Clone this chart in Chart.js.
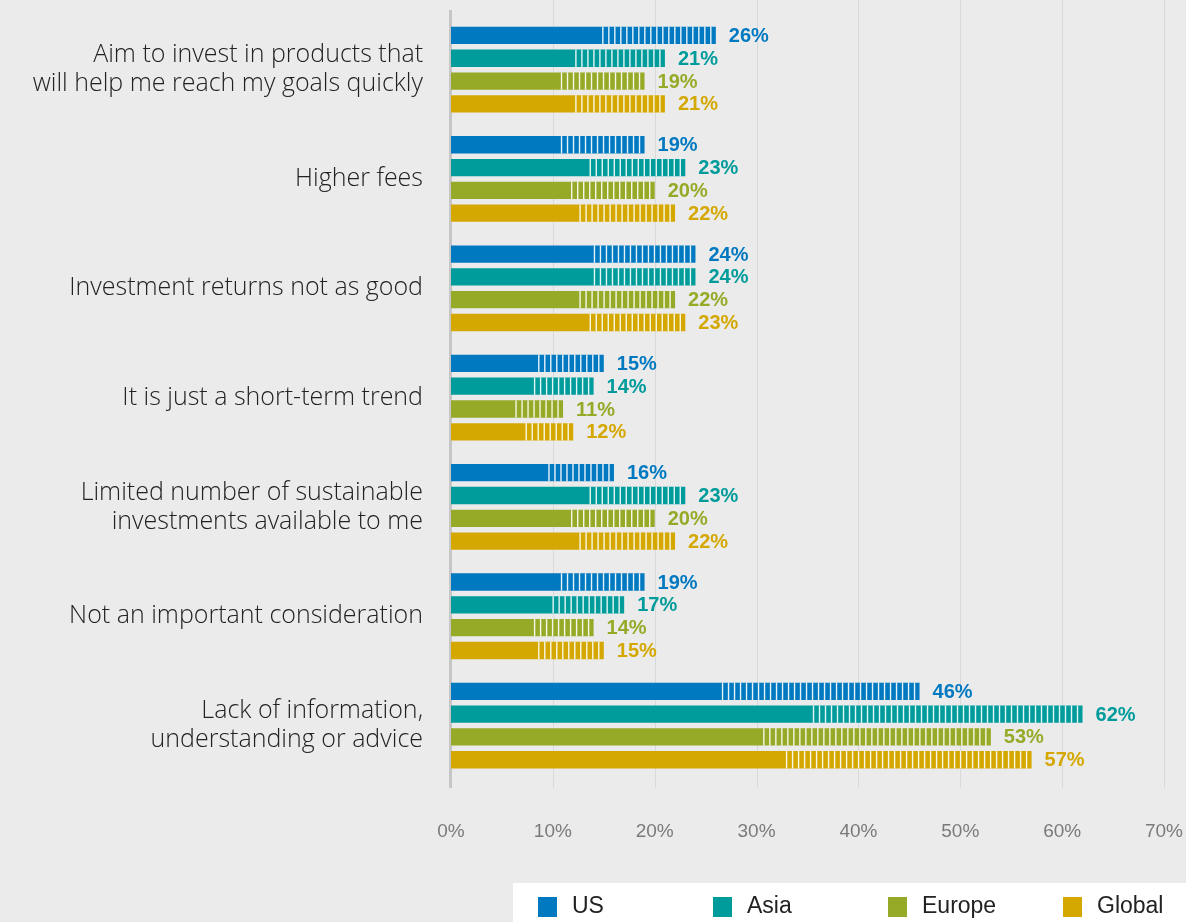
<!DOCTYPE html>
<html>
<head>
<meta charset="utf-8">
<script src="https://cdn.jsdelivr.net/npm/chart.js@4.4.0/dist/chart.umd.min.js"></script>
<style>
  html, body { margin: 0; padding: 0; background: #ebebeb; }
  #wrap { position: relative; width: 1186px; height: 922px; }
</style>
</head>
<body>
<div id="wrap"><canvas id="barrierChart" width="1186" height="922"></canvas></div>
<script>
const categories = [
  ["Aim to invest in products that", "will help me reach my goals quickly"],
  "Higher fees",
  "Investment returns not as good",
  "It is just a short-term trend",
  ["Limited number of sustainable", "investments available to me"],
  "Not an important consideration",
  ["Lack of information,", "understanding or advice"]
];
const regions = ["US", "Asia", "Europe", "Global"];
const usValues = [26, 19, 24, 15, 16, 19, 46];
const asiaValues = [21, 23, 24, 14, 23, 17, 62];
const europeValues = [19, 20, 22, 11, 20, 14, 53];
const globalValues = [21, 22, 23, 12, 22, 15, 57];
const xTickValues = [0, 10, 20, 30, 40, 50, 60, 70];
const regionColors = ["#0079c1", "#009b9b", "#97aa27", "#d4a800"];

const seriesValues = [usValues, asiaValues, europeValues, globalValues];

// vertical gridlines + left axis line, drawn a bit taller than the plot area
const gridPlugin = {
  id: "gridLines",
  beforeDatasetsDraw(chart) {
    const { ctx, chartArea, scales } = chart;
    ctx.save();
    ctx.strokeStyle = "#d9d9d9";
    ctx.lineWidth = 1;
    xTickValues.forEach(v => {
      if (v === 0) return;
      const x = Math.round(scales.x.getPixelForValue(v)) + 0.5;
      ctx.beginPath();
      ctx.moveTo(x, 0);
      ctx.lineTo(x, chartArea.bottom + 8);
      ctx.stroke();
    });
    const x0 = scales.x.getPixelForValue(0);
    ctx.fillStyle = "#c6c6c6";
    ctx.fillRect(x0 - 2, chartArea.top - 5, 3, chartArea.bottom - chartArea.top + 13);
    ctx.restore();
  }
};

// white hatching on the tail of each bar, then the value label
const stripePlugin = {
  id: "barStripes",
  afterDatasetsDraw(chart) {
    const { ctx } = chart;
    ctx.save();
    chart.data.datasets.forEach((ds, di) => {
      const meta = chart.getDatasetMeta(di);
      meta.data.forEach((bar, i) => {
        const p = bar.getProps(["x", "y", "base", "height"], true);
        const top = p.y - p.height / 2;
        const start = p.base + (p.x - p.base) * 0.57;
        ctx.fillStyle = "rgba(255,255,255,0.9)";
        for (let x = p.x - 5; x > start; x -= 6) {
          ctx.fillRect(x - 0.7, top, 1.4, p.height);
        }
        ctx.fillStyle = regionColors[di];
        ctx.font = "bold 20px 'Liberation Sans', Arial, sans-serif";
        ctx.textAlign = "left";
        ctx.textBaseline = "middle";
        ctx.fillText(ds.data[i] + "%", p.x + 13, p.y + 1);
      });
    });
    ctx.restore();
  }
};

// legend strip in a white box along the bottom
const legendPlugin = {
  id: "boxLegend",
  afterDraw(chart) {
    const { ctx, width, height } = chart;
    ctx.save();
    ctx.fillStyle = "#ffffff";
    ctx.fillRect(513, 883, width - 513, height - 883);
    ctx.font = "23px 'Liberation Sans Narrow', 'Liberation Sans', Arial, sans-serif";
    ctx.textBaseline = "middle";
    ctx.textAlign = "left";
    regions.forEach((name, i) => {
      const x = 538 + i * 175;
      ctx.fillStyle = regionColors[i];
      ctx.fillRect(x, 897, 19, 20);
      ctx.fillStyle = "#222222";
      ctx.fillText(name, x + 34, 907);
    });
    ctx.restore();
  }
};

new Chart(document.getElementById("barrierChart"), {
  type: "bar",
  data: {
    labels: categories,
    datasets: regions.map((name, i) => ({
      label: name,
      data: seriesValues[i],
      backgroundColor: regionColors[i],
      borderWidth: 0,
      barPercentage: 0.76,
      categoryPercentage: 0.835
    }))
  },
  options: {
    indexAxis: "y",
    responsive: false,
    animation: false,
    layout: { padding: { top: 15, right: 22, bottom: 47, left: 0 } },
    plugins: {
      legend: { display: false },
      tooltip: { enabled: false }
    },
    scales: {
      x: {
        min: 0,
        max: 70,
        grid: { display: false },
        border: { display: false },
        afterBuildTicks(scale) {
          scale.ticks = xTickValues.map(v => ({ value: v }));
        },
        afterFit(scale) {
          scale.paddingLeft = 0;
          scale.paddingRight = 0;
        },
        ticks: {
          padding: 32,
          color: "#7a7a7a",
          font: { family: "'Liberation Sans Narrow', 'Liberation Sans', Arial", size: 19 },
          callback: v => v + "%"
        }
      },
      y: {
        grid: { display: false, drawTicks: false },
        border: { display: false },
        afterFit(scale) {
          scale.width = 451;
          scale.paddingTop = 0;
          scale.paddingBottom = 0;
        },
        ticks: {
          padding: 28,
          color: "#222222",
          font: { family: "'Open Sans', 'Liberation Sans', Arial", size: 25, weight: 300, lineHeight: 1.16 }
        }
      }
    }
  },
  plugins: [gridPlugin, stripePlugin, legendPlugin]
});
</script>
</body>
</html>
